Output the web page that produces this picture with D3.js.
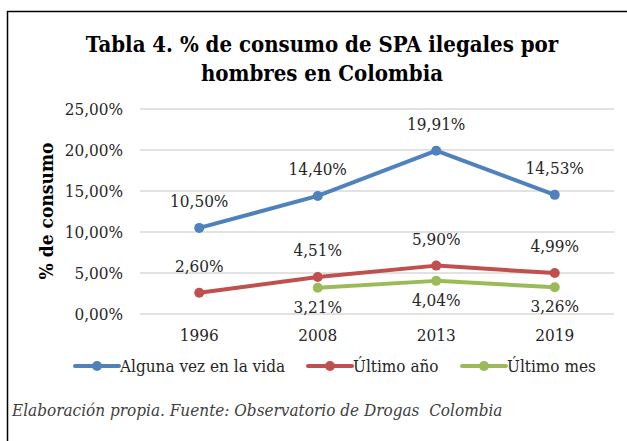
<!DOCTYPE html>
<html>
<head>
<meta charset="utf-8">
<script src="https://cdn.jsdelivr.net/npm/d3@7"></script>
<style>
  body { margin: 0; background: #fff; }
  svg text { font-family: "DejaVu Serif Condensed", "DejaVu Serif", serif; fill: #262626; }
</style>
</head>
<body>
<div class="chart"></div>
<script>
// data
const years = ["1996", "2008", "2013", "2019"];
const seriesNames = ["Alguna vez en la vida", "Último año", "Último mes"];
const algunaVez = [10.50, 14.40, 19.91, 14.53];
const ultimoAno = [2.60, 4.51, 5.90, 4.99];
const ultimoMes = [null, 3.21, 4.04, 3.26];
const yTicks = [0, 5, 10, 15, 20, 25];
const colors = ["#4F81BD", "#C0504D", "#9BBB59"];

const W = 627, H = 441;
const margin = {top: 109, left: 140, right: 13, bottom: 127};
const width = W - margin.left - margin.right,
    height = H - margin.top - margin.bottom;

const svg = d3.select(".chart")
    .append("svg")
    .attr("width", W)
    .attr("height", H);

// frame (top and left edges visible)
svg.append("line").attr("x1", 7).attr("x2", W).attr("y1", 11.5).attr("y2", 11.5)
    .attr("stroke", "#000").attr("stroke-width", 1.5);
svg.append("line").attr("x1", 7.5).attr("x2", 7.5).attr("y1", 11).attr("y2", H)
    .attr("stroke", "#000").attr("stroke-width", 1.5);

// title
const title = svg.append("text")
    .attr("text-anchor", "middle")
    .style("font-weight", "bold")
    .style("font-size", "22px")
    .style("fill", "#000");
title.append("tspan").attr("x", 322).attr("y", 52).text("Tabla 4. % de consumo de SPA ilegales por");
title.append("tspan").attr("x", 322).attr("y", 81).text("hombres en Colombia");

const gr = svg.append("g")
    .attr("transform", "translate(" + margin.left + "," + margin.top + ")");

const xScale = d3.scaleBand().domain(years).range([0, width]);
const yScale = d3.scaleLinear().domain([0, 25]).range([height, 0]);
const fmt = v => d3.format(".2f")(v).replace(".", ",") + "%";

// gridlines
gr.selectAll(".grid").data(yTicks).join("line")
    .attr("class", "grid")
    .attr("x1", 0).attr("x2", width)
    .attr("y1", d => yScale(d)).attr("y2", d => yScale(d))
    .attr("stroke", "#D9D9D9").attr("stroke-width", 1.5);

// y tick labels
const yAxis = d3.axisLeft(yScale).tickValues(yTicks).tickFormat(fmt).tickSize(0).tickPadding(17);
gr.append("g").attr("class", "axis y-axis").call(yAxis)
    .call(g => g.select(".domain").remove())
    .selectAll("text")
    .style("font-size", "17px")
    .style("font-family", null);

// x tick labels
const xAxis = d3.axisBottom(xScale).tickSize(0).tickPadding(15);
gr.append("g").attr("class", "axis x-axis")
    .attr("transform", "translate(0," + height + ")")
    .call(xAxis)
    .call(g => g.select(".domain").remove())
    .selectAll("text")
    .style("font-size", "17px")
    .style("font-family", null);

// y axis title
svg.append("text")
    .attr("transform", "translate(53,211) rotate(-90)")
    .attr("text-anchor", "middle")
    .style("font-weight", "bold")
    .style("font-size", "19px")
    .style("fill", "#000")
    .text("% de consumo");

// series
const allSeries = [algunaVez, ultimoAno, ultimoMes];
const labelPos = ["above", "above", "below"];
const cx = i => xScale(years[i]) + xScale.bandwidth() / 2;

allSeries.forEach((vals, s) => {
    const pts = vals.map((v, i) => ({i, v})).filter(d => d.v != null);
    const line = d3.line().x(d => cx(d.i)).y(d => yScale(d.v));
    gr.append("path")
        .datum(pts)
        .attr("d", line)
        .attr("fill", "none")
        .attr("stroke", colors[s])
        .attr("stroke-width", 4)
        .attr("stroke-linejoin", "round")
        .attr("stroke-linecap", "round");
    gr.selectAll(".pt" + s).data(pts).join("circle")
        .attr("cx", d => cx(d.i))
        .attr("cy", d => yScale(d.v))
        .attr("r", 5)
        .attr("fill", colors[s]);
    gr.selectAll(".lb" + s).data(pts).join("text")
        .attr("x", d => cx(d.i))
        .attr("y", d => yScale(d.v) + (labelPos[s] === "above" ? -21 : 25))
        .attr("text-anchor", "middle")
        .style("font-size", "17px")
        .text(d => fmt(d.v));
});

// legend
const legendX = [75, 308, 462];
const legend = svg.append("g").attr("transform", "translate(0,366)");
seriesNames.forEach((name, s) => {
    const g = legend.append("g").attr("transform", "translate(" + legendX[s] + ",0)");
    g.append("line").attr("x1", 0).attr("x2", 44).attr("y1", 0).attr("y2", 0)
        .attr("stroke", colors[s]).attr("stroke-width", 4).attr("stroke-linecap", "round");
    g.append("circle").attr("cx", 22).attr("cy", 0).attr("r", 5).attr("fill", colors[s]);
    g.append("text").attr("x", 45).attr("y", 6)
        .style("font-size", "17px")
        .text(name);
});

// source note
svg.append("text")
    .attr("x", 12).attr("y", 416)
    .style("font-style", "italic")
    .style("font-size", "17px")
    .style("fill", "#404040")
    .attr("xml:space", "preserve")
    .text("Elaboración propia. Fuente: Observatorio de Drogas  Colombia");
</script>
</body>
</html>
